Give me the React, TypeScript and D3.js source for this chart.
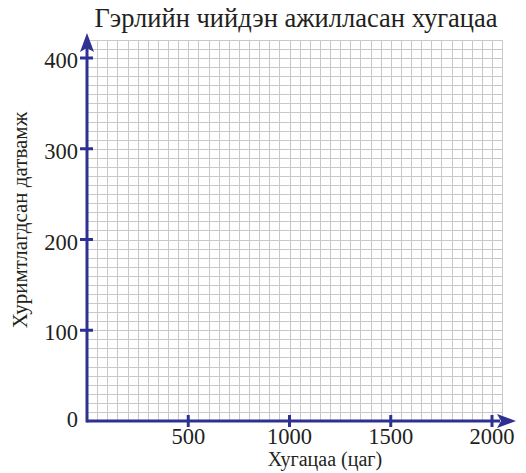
import React from "react";
import * as d3 from "d3";

const title = "Гэрлийн чийдэн ажилласан хугацаа";
const xLabel = "Хугацаа (цаг)";
const yLabel = "Хуримтлагдсан датвамж";
const xTicks = [500, 1000, 1500, 2000];
const yTicks = [0, 100, 200, 300, 400];
const xGridMax = 2050;
const yGridMax = 420;
const xGridStep = 50;
const yGridStep = 10;

const W = 526;
const H = 473;
const AXIS = "#2e3192";
const GRID = "#c8c8c8";
const FONT = "'Liberation Serif', 'Times New Roman', serif";

export default function App() {
  const x = d3.scaleLinear().domain([0, 2000]).range([87, 492]);
  const y = d3.scaleLinear().domain([0, 400]).range([421, 58]);
  const xg = d3.range(xGridStep, xGridMax + 1, xGridStep);
  const yg = d3.range(yGridStep, yGridMax + 1, yGridStep);
  const px = (v: number) => Math.round(v) + 0.5;
  return (
    <svg width={W} height={H} style={{ position: "absolute", left: 0, top: 0, background: "#fff" }}>
      <g stroke={GRID} strokeWidth={1}>
        {xg.map((v) => (
          <line key={"x" + v} x1={px(x(v))} x2={px(x(v))} y1={y(0)} y2={px(y(yGridMax))} />
        ))}
        {yg.map((v) => (
          <line key={"y" + v} x1={x(0)} x2={px(x(xGridMax))} y1={px(y(v))} y2={px(y(v))} />
        ))}
      </g>
      <g stroke={AXIS} strokeWidth={3}>
        <line x1={x(0)} x2={500} y1={y(0)} y2={y(0)} />
        <line x1={x(0)} x2={x(0)} y1={y(0) + 1.5} y2={48} />
        {xTicks.map((v) => (
          <line key={v} x1={x(v)} x2={x(v)} y1={y(0) - 6} y2={y(0) + 6} />
        ))}
        {yTicks.filter((v) => v > 0).map((v) => (
          <line key={v} x1={x(0) - 7} x2={x(0) + 6} y1={y(v)} y2={y(v)} />
        ))}
      </g>
      <path d={`M${x(0)},33 L${x(0) - 7},52 L${x(0)},48 L${x(0) + 7},52 Z`} fill={AXIS} />
      <path d={`M516,${y(0)} L497,${y(0) - 7} L501,${y(0)} L497,${y(0) + 7} Z`} fill={AXIS} />
      <g fontFamily={FONT} fill="#231f20" fontWeight={400}>
        <text x={296} y={27} fontSize={26.5} textAnchor="middle">{title}</text>
        {xTicks.map((v) => (
          <text key={v} x={x(v)} y={444} fontSize={22.5} textAnchor="middle">{v}</text>
        ))}
        {yTicks.map((v) => (
          <text key={v} x={78} y={v === 0 ? 427 : y(v) + 10} fontSize={22.5} textAnchor="end">{v}</text>
        ))}
        <text x={325} y={466} fontSize={20} textAnchor="middle">{xLabel}</text>
        <text transform={`translate(27,220) rotate(-90)`} fontSize={21} textAnchor="middle">{yLabel}</text>
      </g>
    </svg>
  );
}
